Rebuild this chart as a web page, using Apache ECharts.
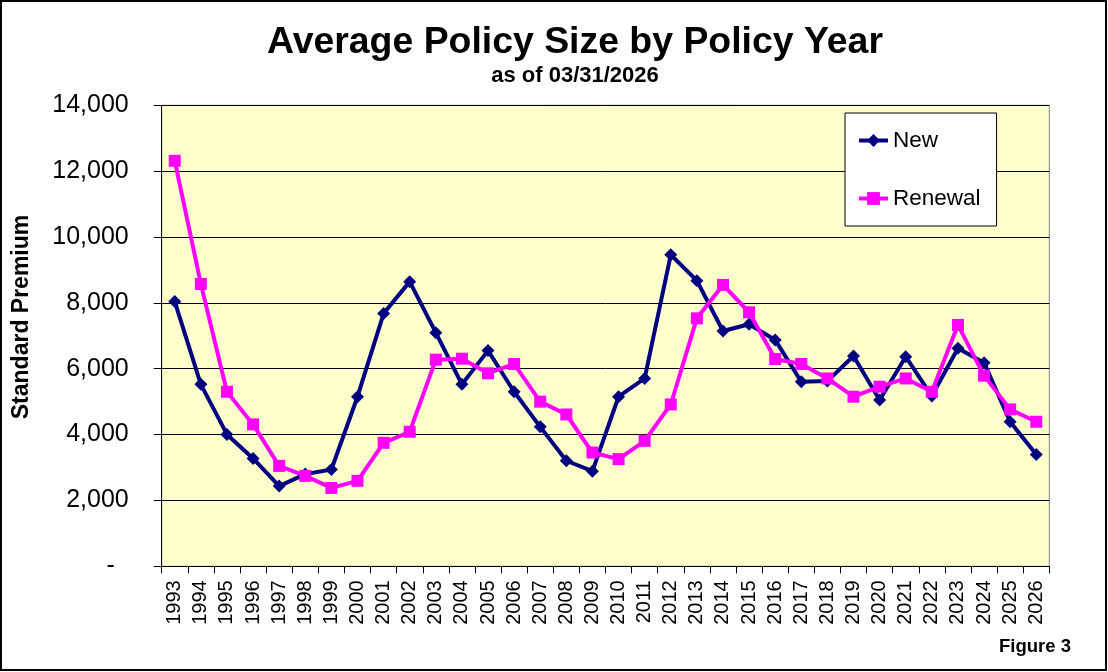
<!DOCTYPE html>
<html>
<head>
<meta charset="utf-8">
<script src="https://cdn.jsdelivr.net/npm/echarts@6/dist/echarts.min.js"></script>
<style>
html,body{margin:0;padding:0;background:#fff;}
#chart{width:1108px;height:672px;}
</style>
</head>
<body>
<div id="chart"></div>
<script>
const years = ['1993','1994','1995','1996','1997','1998','1999','2000','2001','2002','2003','2004','2005','2006','2007','2008','2009','2010','2011','2012','2013','2014','2015','2016','2017','2018','2019','2020','2021','2022','2023','2024','2025','2026'];
const newValues = [8040,5525,4005,3275,2435,2800,2940,5150,7675,8645,7095,5525,6550,5300,4235,3205,2890,5150,5705,9460,8675,7145,7350,6875,5605,5625,6385,5050,6365,5170,6620,6185,4390,3395];
const renewalValues = [12315,8575,5300,4310,3050,2745,2380,2595,3750,4085,6275,6305,5860,6145,5000,4610,3455,3255,3810,4915,7530,8545,7715,6295,6145,5705,5150,5455,5705,5300,7330,5790,4765,4390];
const yTicks = {min:0, max:14000, interval:2000};

const FONT = 'Liberation Sans, Arial, sans-serif';
const chart = echarts.init(document.getElementById('chart'), null, {renderer:'canvas'});
chart.setOption({
  backgroundColor:'#ffffff',
  animation:false,
  title:{
    text:'Average Policy Size by Policy Year',
    subtext:'as of 03/31/2026',
    left:570, top:19, textAlign:'center',
    itemGap:4,
    textStyle:{fontFamily:FONT, fontSize:37.4, fontWeight:'bold', color:'#000'},
    subtextStyle:{fontFamily:FONT, fontSize:22, fontWeight:'bold', color:'#000'}
  },
  legend:{
    orient:'vertical',
    left:845, top:113,
    padding:[16,16,16,12],
    itemGap:35,
    itemWidth:29, itemHeight:16,
    backgroundColor:'#ffffff',
    borderColor:'#000', borderWidth:1, borderRadius:0,
    lineStyle:{width:4},
    textStyle:{fontFamily:FONT, fontSize:22.5, color:'#000'},
    data:['New','Renewal']
  },
  grid:{
    left:161.7, right:58.7, top:105.3, bottom:105.7,
    show:true, backgroundColor:'#FFFFCC', borderColor:'#808080', borderWidth:1
  },
  xAxis:{
    type:'category', data:years, boundaryGap:true,
    axisLine:{show:true, lineStyle:{color:'#000', width:1}},
    axisTick:{show:true, interval:0, alignWithLabel:false, length:7, lineStyle:{color:'#000'}},
    axisLabel:{rotate:90, interval:0, margin:14, fontFamily:FONT, fontSize:20, color:'#000'},
    splitLine:{show:false}
  },
  yAxis:{
    type:'value', min:yTicks.min, max:yTicks.max, interval:yTicks.interval,
    axisLine:{show:true, lineStyle:{color:'#000', width:1}},
    axisTick:{show:true, length:8, lineStyle:{color:'#000'}},
    axisLabel:{margin:33, fontFamily:FONT, fontSize:25, color:'#000',
      formatter:function(v){ return v===0 ? '-  ' : v.toLocaleString('en-US'); }},
    splitLine:{show:true, lineStyle:{color:'#000', width:1}}
  },
  graphic:[
    {type:'rect', shape:{x:1, y:1, width:1105, height:669}, style:{fill:'none', stroke:'#000', lineWidth:2}, z:100},
    {type:'text', x:22, y:317, rotation:Math.PI/2,
      style:{text:'Standard Premium', fontFamily:FONT, fontSize:23, fontWeight:'bold', fill:'#000', align:'center', verticalAlign:'middle'}},
    {type:'text', x:999, y:647,
      style:{text:'Figure 3', fontFamily:FONT, fontSize:18.5, fontWeight:'bold', fill:'#000', align:'left', verticalAlign:'middle'}}
  ],
  series:[
    {name:'New', type:'line', data:newValues, symbol:'diamond', symbolSize:13,
      lineStyle:{color:'#000080', width:4}, itemStyle:{color:'#000080'}, z:2},
    {name:'Renewal', type:'line', data:renewalValues, symbol:'rect', symbolSize:12,
      lineStyle:{color:'#FF00FF', width:4}, itemStyle:{color:'#FF00FF'}, z:3}
  ]
});
</script>
</body>
</html>
